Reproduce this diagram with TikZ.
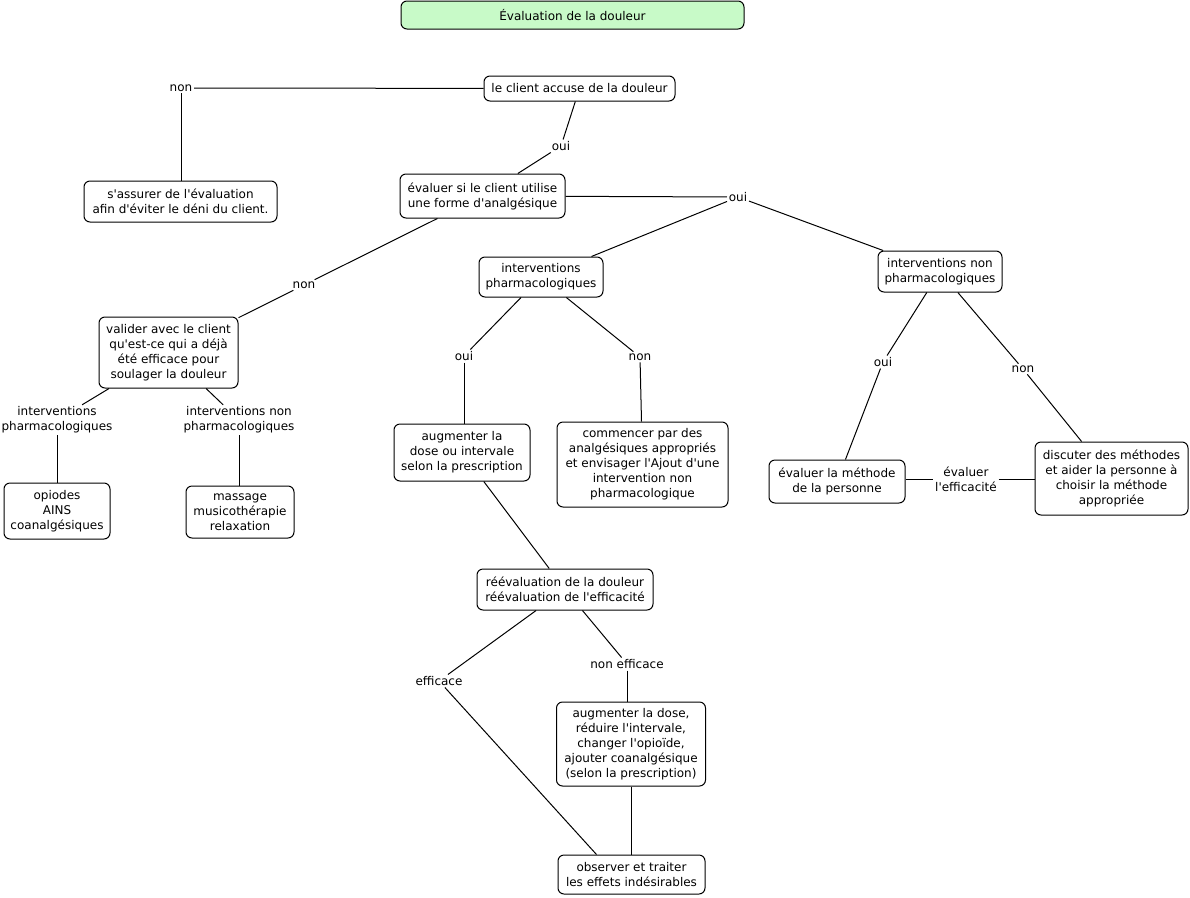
\documentclass[tikz,border=0pt]{standalone}
\usepackage{fontspec}
\setmainfont{DejaVu Sans}[Ligatures=TeXOff]
\usetikzlibrary{calc}
\definecolor{titlegreen}{RGB}{200,250,200}
\tikzset{
  txt/.style={font=\fontsize{9}{11.25}\selectfont, align=center, text=black},
  box/.style={txt, draw, line width=0.75pt, rounded corners=4.5pt, inner sep=1pt},
  sz/.style 2 args={minimum width=#1*0.75pt, minimum height=#2*0.75pt},
  lab/.style={txt, inner sep=1.2pt},
  conn/.style={line width=0.75pt}
}
\begin{document}
\begin{tikzpicture}[x=0.75pt,y=-0.75pt]
\useasboundingbox (0,0) rectangle (1190,897);
% boxes
\node[box, sz={343}{28}, fill=titlegreen] (T) at (572.5,15) {Évaluation de la douleur};
\node[box, sz={191}{25}] (A) at (579.5,88.5) {le client accuse de la douleur};
\node[box, sz={193}{41}] (B) at (180.5,201.5) {s'assurer de l'évaluation\\afin d'éviter le déni du client.};
\node[box, sz={165}{44}] (C) at (482.5,196) {évaluer si le client utilise\\une forme d'analgésique};
\node[box, sz={124}{40}] (D) at (541,277) {interventions\\pharmacologiques};
\node[box, sz={124}{41}] (E) at (940,271.5) {interventions non\\pharmacologiques};
\node[box, sz={139}{71}] (F) at (168.5,352.5) {valider avec le client\\qu'est-ce qui a déjà\\été efficace pour\\soulager la douleur};
\node[box, sz={106}{56}] (G) at (57,511) {opiodes\\AINS\\coanalgésiques};
\node[box, sz={108}{52}] (H) at (240,512) {massage\\musicothérapie\\relaxation};
\node[box, sz={136}{57}] (I) at (462,452.5) {augmenter la\\dose ou intervale\\selon la prescription};
\node[box, sz={171}{85}] (J) at (642.5,464.5) {commencer par des\\analgésiques appropriés\\et envisager l'Ajout d'une\\intervention non\\pharmacologique};
\node[box, sz={136}{43}] (K) at (837,481.5) {évaluer la méthode\\de la personne};
\node[box, sz={153}{73}] (L) at (1111.5,478.5) {discuter des méthodes\\et aider la personne à\\choisir la méthode\\appropriée};
\node[box, sz={176}{41}] (M) at (565,589.5) {réévaluation de la douleur\\réévaluation de l'efficacité};
\node[box, sz={149}{84}] (N) at (631,744) {augmenter la dose,\\réduire l'intervale,\\changer l'opioïde,\\ajouter coanalgésique\\(selon la prescription)};
\node[box, sz={147}{39}] (O) at (631.5,874.5) {observer et traiter\\les effets indésirables};
% labels
\node[lab] (l1) at (181,88) {non};
\node[lab] (l2) at (561,146) {oui};
\node[lab] (l3) at (738,197) {oui};
\node[lab] (l4) at (304,285) {non};
\node[lab] (l5) at (57,420) {interventions\\pharmacologiques};
\node[lab] (l6) at (239,420) {interventions non\\pharmacologiques};
\node[lab] (l7) at (464,356) {oui};
\node[lab] (l8) at (640,357) {non};
\node[lab] (l9) at (883,362) {oui};
\node[lab] (l10) at (1023,369) {non};
\node[lab] (l11) at (966,479) {évaluer\\l'efficacité};
\node[lab] (l12) at (439,681) {efficace};
\node[lab] (l13) at (627,664) {non efficace};
% connectors
\draw[conn] (A) -- (l1);
\draw[conn] (l1) -- (l1 |- B.north);
\draw[conn] (A) -- (l2);
\draw[conn] (l2) -- (C);
\draw[conn] (C) -- (l3);
\draw[conn] (l3) -- (D);
\draw[conn] (l3) -- (E);
\draw[conn] (C) -- (l4);
\draw[conn] (l4) -- (F);
\draw[conn] (F) -- (l5);
\draw[conn] (l5) -- (G);
\draw[conn] (F) -- (l6);
\draw[conn] (l6) -- (l6 |- H.north);
\draw[conn] (D) -- (l7);
\draw[conn] (l7) -- (l7 |- I.north);
\draw[conn] (D) -- (l8);
\draw[conn] (l8) -- (J);
\draw[conn] (E) -- (l9);
\draw[conn] (l9) -- (K);
\draw[conn] (E) -- (l10);
\draw[conn] (l10) -- (L);
\draw[conn] (K.east |- l11) -- (l11);
\draw[conn] (l11) -- (L.west |- l11);
\draw[conn] (I) -- (M);
\draw[conn] (M) -- (l12);
\draw[conn] (l12) -- ([xshift=-26.25pt]O.north);
\draw[conn] (M) -- (l13);
\draw[conn] (l13) -- (l13 |- N.north);
\draw[conn] (N.south -| O.north) -- (O.north);
\end{tikzpicture}
\end{document}
